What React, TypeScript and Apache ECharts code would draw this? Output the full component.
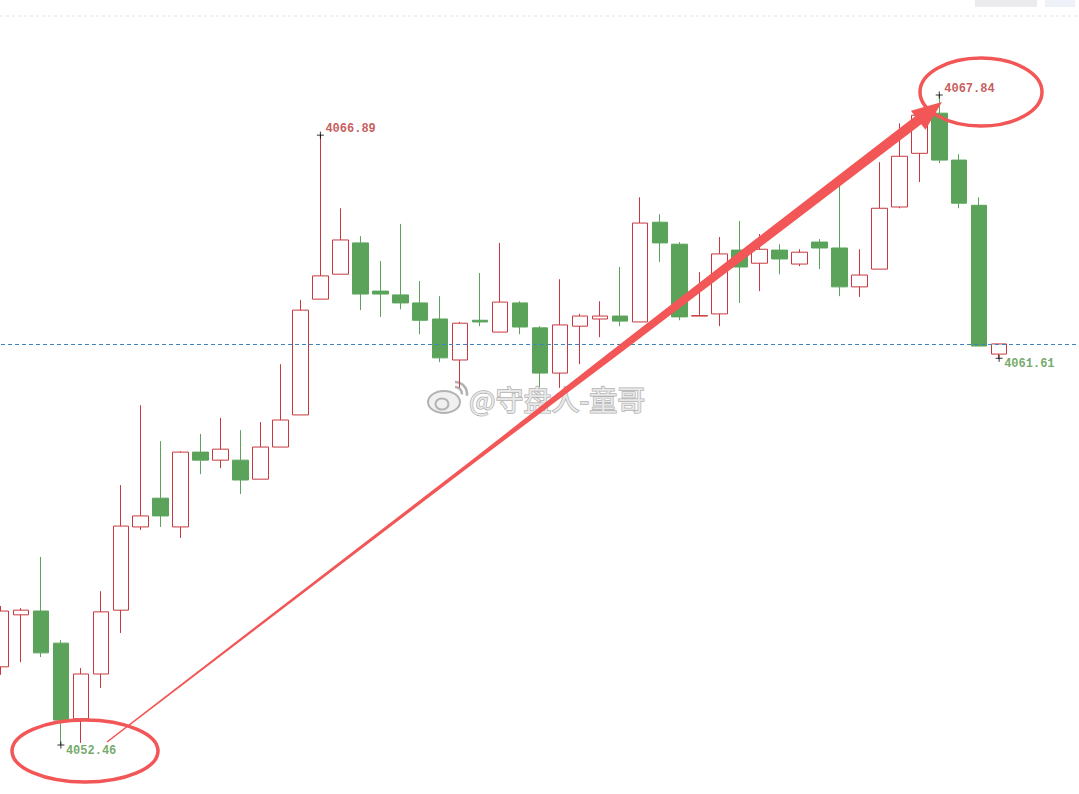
import React, { useEffect, useRef } from "react";
import * as echarts from "echarts";

// ---- data ----
const categories = [
  "1","2","3","4","5","6","7","8","9","10","11","12","13","14","15","16","17","18","19","20",
  "21","22","23","24","25","26","27","28","29","30","31","32","33","34","35","36","37","38","39","40",
  "41","42","43","44","45","46","47","48","49","50","51","","","","",
];
const opens = [4054.31, 4055.54, 4055.63, 4054.87, 4053.08, 4054.14, 4055.65, 4057.62, 4058.30, 4057.62, 4059.39, 4059.20, 4059.20, 4058.75, 4059.51, 4060.27, 4063.01, 4063.60, 4064.34, 4063.20, 4063.11, 4062.92, 4062.54, 4061.57, 4062.51, 4062.23, 4062.92, 4062.33, 4061.26, 4062.37, 4062.54, 4062.61, 4062.47, 4064.83, 4064.31, 4062.61, 4062.66, 4064.17, 4063.86, 4064.17, 4063.84, 4064.36, 4064.22, 4063.30, 4063.72, 4065.19, 4066.46, 4067.41, 4066.30, 4065.23, 4061.71];
const closes = [4055.63, 4055.65, 4054.64, 4053.05, 4054.14, 4055.61, 4057.64, 4057.88, 4057.88, 4059.39, 4059.20, 4059.46, 4058.73, 4059.51, 4060.15, 4062.75, 4063.56, 4064.41, 4063.13, 4063.13, 4062.92, 4062.51, 4061.62, 4062.44, 4062.47, 4062.94, 4062.35, 4061.26, 4062.40, 4062.61, 4062.61, 4062.49, 4064.81, 4064.34, 4062.59, 4062.62, 4064.08, 4063.77, 4064.19, 4063.96, 4064.12, 4064.22, 4063.30, 4063.58, 4065.16, 4066.39, 4067.36, 4066.30, 4065.28, 4061.90, 4061.95];
const lows = [4054.12, 4054.42, 4054.54, 4052.46, 4052.51, 4053.81, 4055.11, 4057.55, 4057.62, 4057.36, 4058.87, 4059.01, 4058.40, 4058.75, 4059.51, 4060.27, 4063.01, 4063.60, 4062.75, 4062.59, 4062.77, 4062.18, 4061.52, 4060.91, 4062.37, 4062.23, 4062.18, 4060.93, 4060.91, 4061.47, 4062.11, 4062.37, 4062.47, 4063.89, 4062.51, 4062.61, 4062.37, 4062.92, 4063.20, 4063.60, 4063.79, 4063.72, 4063.08, 4063.06, 4063.72, 4065.16, 4065.78, 4066.23, 4065.16, 4061.90, 4061.61];
const highs = [4055.75, 4055.70, 4056.91, 4054.94, 4054.28, 4056.10, 4058.61, 4060.50, 4059.65, 4059.41, 4059.82, 4060.20, 4059.91, 4060.10, 4061.47, 4062.99, 4066.89, 4065.16, 4064.50, 4063.91, 4064.79, 4063.44, 4063.08, 4062.47, 4063.63, 4064.34, 4062.96, 4062.37, 4063.48, 4062.66, 4062.96, 4063.77, 4065.42, 4065.02, 4064.36, 4063.65, 4064.48, 4064.86, 4064.55, 4064.31, 4064.19, 4064.43, 4065.71, 4064.19, 4066.25, 4067.17, 4067.43, 4067.84, 4066.44, 4065.42, 4061.95];

const highMarkIndex = [16, 47];
const highMarkValue = [4066.89, 4067.84];
const lowMarkIndex = [3, 50];
const lowMarkValue = [4052.46, 4061.61];
const priceLine = 4061.95;
const yMin = 4052.46;
const yMax = 4067.84;
const watermark = "@守盘人-童哥";

const RED = "#c8383e";
const GREEN = "#5ba35b";
const ANNO = "#f25656";

function taperedArrow(sx: number, sy: number, tx: number, ty: number) {
  const dx = tx - sx, dy = ty - sy;
  const len = Math.hypot(dx, dy);
  const ux = dx / len, uy = dy / len;
  const nx = -uy, ny = ux;
  const headLen = 30, headHalf = 12;
  const bx = tx - ux * headLen, by = ty - uy * headLen;
  const stops = [
    [0, 0.75], [0.45, 1.8], [0.62, 3.6], [0.8, 4.5], [1, 5],
  ];
  const left: number[][] = [];
  const right: number[][] = [];
  for (const [t, hw] of stops) {
    const px = sx + (bx - sx) * t, py = sy + (by - sy) * t;
    left.push([px + nx * hw, py + ny * hw]);
    right.push([px - nx * hw, py - ny * hw]);
  }
  return [
    ...left,
    [bx + nx * headHalf, by + ny * headHalf],
    [tx, ty],
    [bx - nx * headHalf, by - ny * headHalf],
    ...right.reverse(),
  ];
}

export default function App() {
  const ref = useRef<HTMLDivElement>(null);
  useEffect(() => {
    if (!ref.current) return;
    const chart = echarts.init(ref.current, null, { renderer: "svg" });
    const candleData: any[] = opens.map((o, i) => [o, closes[i], lows[i], highs[i]]);
    while (candleData.length < categories.length) candleData.push("-");

    const labelFont = {
      fontFamily: "Liberation Mono",
      fontWeight: "bold" as const,
      fontSize: 12,
    };
    const plus = "path://M0,4L8,4M4,0L4,8";
    const wmStroke = "#b2b2b2";

    chart.setOption({
      animation: false,
      backgroundColor: "#ffffff",
      grid: { left: 1, top: 95, width: 1080, height: 650, containLabel: false },
      xAxis: {
        type: "category",
        data: categories,
        boundaryGap: false,
        show: false,
      },
      yAxis: {
        type: "value",
        min: yMin,
        max: yMax,
        show: false,
        splitLine: { show: false },
      },
      series: [
        {
          type: "candlestick",
          data: candleData,
          barWidth: 16,
          itemStyle: {
            color: "#ffffff",
            color0: GREEN,
            borderColor: RED,
            borderColor0: GREEN,
            borderWidth: 1,
          },
          markLine: {
            silent: true,
            symbol: ["none", "none"],
            label: { show: false },
            lineStyle: { color: "#3d86c0", type: [4, 3], width: 1 },
            data: [{ yAxis: priceLine }],
          },
          z: 2,
        },
        {
          type: "scatter",
          data: highMarkIndex.map((x, i) => [x, highMarkValue[i]]),
          symbol: plus,
          symbolSize: 7,
          itemStyle: { color: "transparent", borderColor: "#000", borderWidth: 1 },
          label: {
            show: true,
            position: "right",
            distance: 1,
            offset: [0, -6],
            color: "#b83232",
            ...labelFont,
            formatter: (p: any) => p.value[1].toFixed(2),
          },
          z: 5,
        },
        {
          type: "scatter",
          data: lowMarkIndex.map((x, i) => [x, lowMarkValue[i]]),
          symbol: plus,
          symbolSize: 7,
          itemStyle: { color: "transparent", borderColor: "#000", borderWidth: 1 },
          label: {
            show: true,
            position: "right",
            distance: 1,
            offset: [0, 6],
            color: "#4f9445",
            ...labelFont,
            formatter: (p: any) => p.value[1].toFixed(2),
          },
          z: 5,
        },
      ],
      graphic: [
        {
          type: "line",
          z: 1,
          shape: { x1: 0, y1: 16, x2: 1079, y2: 16 },
          style: { stroke: "#e4e4e4", lineWidth: 1, lineDash: [3, 3] },
        },
        { type: "rect", z: 1, shape: { x: 975, y: 0, width: 62, height: 7 }, style: { fill: "rgba(110,110,125,0.14)" } },
        { type: "rect", z: 1, shape: { x: 1045, y: 0, width: 30, height: 7 }, style: { fill: "rgba(120,150,190,0.13)" } },
        // watermark (weibo logo + text)
        {
          type: "group",
          z: 50,
          children: [
            { type: "ellipse", shape: { cx: 444, cy: 402, rx: 16, ry: 11 }, style: { fill: "rgba(236,236,236,0.8)", stroke: wmStroke, lineWidth: 2 } },
            { type: "ellipse", shape: { cx: 442, cy: 404, rx: 6.5, ry: 5.5 }, style: { fill: "none", stroke: wmStroke, lineWidth: 2 } },
            { type: "arc", shape: { cx: 455, cy: 394, r: 7, startAngle: -Math.PI / 2, endAngle: 0.05 }, style: { fill: "none", stroke: wmStroke, lineWidth: 2.5 } },
            { type: "arc", shape: { cx: 455, cy: 394, r: 12, startAngle: -Math.PI / 2, endAngle: 0.15 }, style: { fill: "none", stroke: wmStroke, lineWidth: 2.5 } },
            {
              type: "text",
              x: 469,
              y: 399,
              style: {
                text: watermark,
                font: "28px 'Noto Sans CJK SC'",
                fill: "rgba(234,234,234,0.95)",
                stroke: wmStroke,
                lineWidth: 1.4,
                verticalAlign: "middle",
              },
            },
          ],
        },
        // annotations
        {
          type: "polygon",
          z: 60,
          shape: { points: taperedArrow(107, 742, 942, 102) },
          style: { fill: ANNO },
        },
        {
          type: "ellipse",
          z: 60,
          shape: { cx: 85, cy: 751, rx: 73, ry: 31 },
          style: { fill: "none", stroke: ANNO, lineWidth: 3.5 },
        },
        {
          type: "ellipse",
          z: 60,
          shape: { cx: 981, cy: 92, rx: 61, ry: 34 },
          style: { fill: "none", stroke: ANNO, lineWidth: 3.5 },
        },
      ],
    });
    return () => chart.dispose();
  }, []);

  return (
    <div
      ref={ref}
      style={{ position: "fixed", left: 0, top: 0, width: 1079, height: 794, background: "#fff" }}
    />
  );
}
